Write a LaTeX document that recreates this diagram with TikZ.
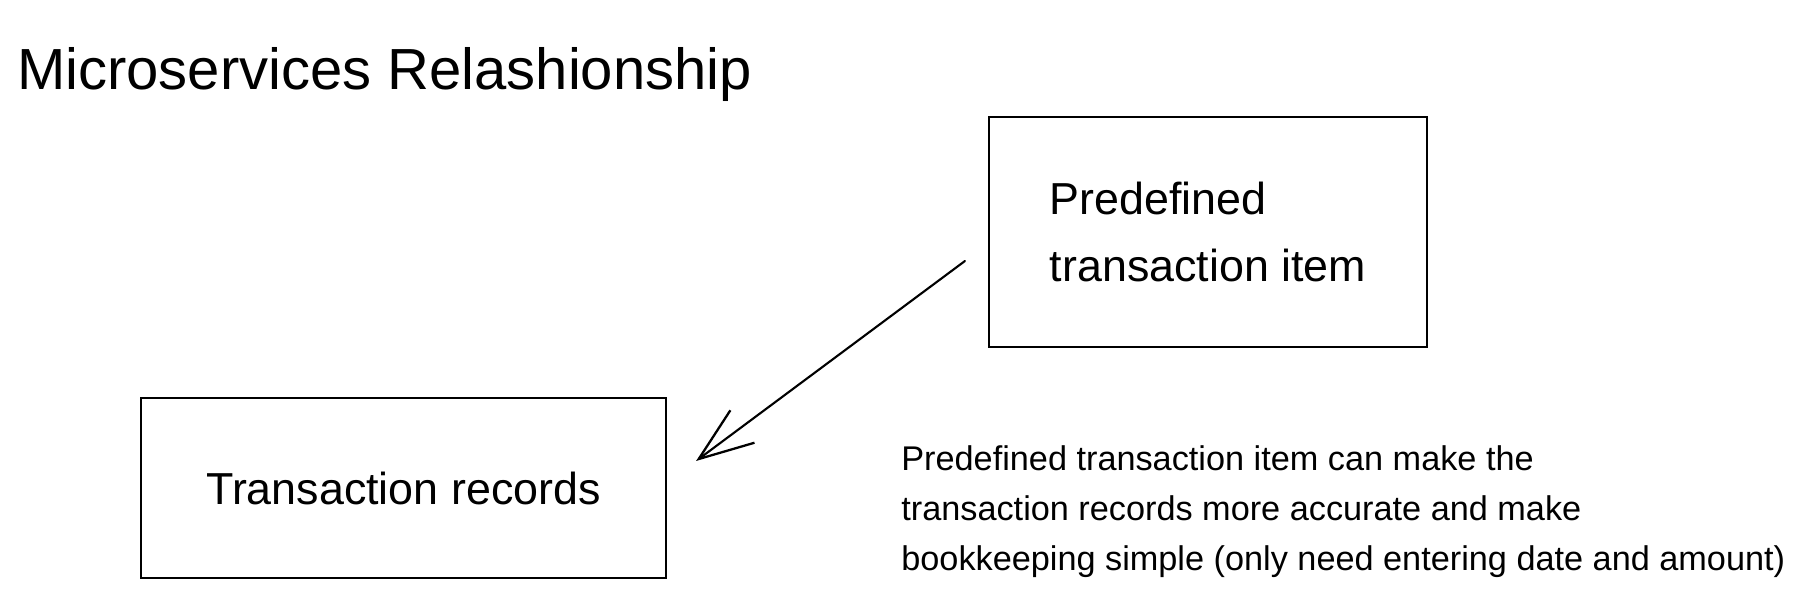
\documentclass[tikz,border=0pt]{standalone}
\usepackage{fontspec}
\setmainfont{Liberation Sans}
\usetikzlibrary{arrows.meta, calc}

\begin{document}
\begin{tikzpicture}[>={Straight Barb[length=31pt,width=23pt,line width=1.3pt]}]

% Layout constants
\def\lw{1.2pt}   % stroke width
\def\pw{36.08}   % picture width
\def\ph{11.98}   % picture height

\tikzset{
  svcbox/.style={draw, line width=\lw, align=left,
    font=\fontsize{25.5pt}{38pt}\selectfont},
  flow/.style={->, line width=\lw, line cap=round},
}

\useasboundingbox (0,0) rectangle (\pw,\ph);

%% ---- Title -------------------------
\node[anchor=base west, font=\fontsize{33pt}{40pt}\selectfont] (title)
  at (0.22,10.18) {Microservices Relashionship};

%% ---- Services -------------------------
\node[svcbox, minimum width=8.76cm, minimum height=4.6cm] (item)
  at (24.16,7.34) {Predefined\\transaction item};
\node[svcbox, minimum width=10.5cm, minimum height=3.6cm] (records)
  at (8.07,2.22) {Transaction records};

% Relationship arrow
\draw[flow] ($(item.west)+(-0.46,-0.58)$) -- ($(records.east)+(0.58,0.54)$);

%% ---- Note -------------------------
\node[anchor=base west, align=left, inner sep=0pt,
  font=\fontsize{19.5pt}{28.6pt}\selectfont] (note) at (18.02,0.56)
  {Predefined transaction item can make the\\
   transaction records more accurate and make\\
   bookkeeping simple (only need entering date and amount)};

\end{tikzpicture}
\end{document}
